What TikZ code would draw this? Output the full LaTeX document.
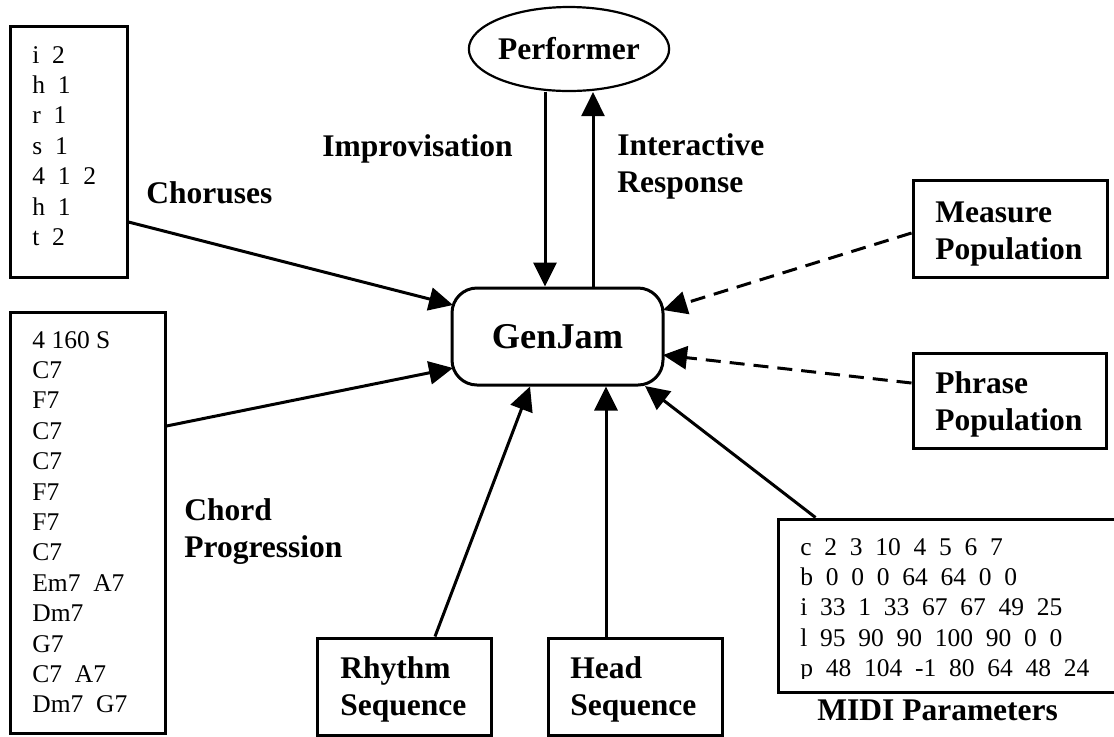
\documentclass[tikz,border=0pt]{standalone}
\usepackage{fontspec}
\setmainfont{Liberation Serif}
\usetikzlibrary{arrows.meta,calc,shapes.geometric}
\newcommand{\mylines}[1]{\begin{tabular}[t]{@{}l@{}}#1\end{tabular}}
\tikzset{
  box/.style={draw, line width=1.5pt, inner sep=0pt},
  reg/.style={font=\fontsize{12.75}{15.2}\selectfont, inner sep=0pt, anchor=base west},
  lbl/.style={font=\fontsize{15.75}{18.5}\selectfont\bfseries, inner sep=0pt, anchor=base west},
  conn/.style={line width=1.5pt, -{Triangle[length=12pt,width=11.5pt]}},
  dconn/.style={conn, dash pattern=on 7.5pt off 4.5pt},
}
\begin{document}
\begin{tikzpicture}[x=0.5pt,y=-0.5pt]
\path[use as bounding box] (0,0) rectangle (1114,736);
\clip (0,0) rectangle (1114,736);

% central node
\node[box, rounded corners=12.5pt, minimum width=105.5pt, minimum height=48.5pt,
      font=\fontsize{18.15}{21}\selectfont\bfseries] (gj) at (557.5,336.5) {GenJam};
\node[draw, line width=1.1pt, ellipse, inner sep=0pt, minimum width=97pt, minimum height=42pt,
      font=\fontsize{15.75}{18.5}\selectfont\bfseries] (perf) at (569,49) {Performer};

% boxes
\node[box, minimum width=58.5pt, minimum height=125.5pt] (chor) at (68.5,151.5) {};
\node[reg] (chortext) at (32,63) {\mylines{i~~2\\h~~1\\r~~1\\s~~1\\4~~1~~2\\h~~1\\t~~2}};

\node[box, minimum width=77.5pt, minimum height=210.5pt] (chord) at (87.5,522.5) {};
\node[reg] (chordtext) at (32,348) {\mylines{4 160 S\\C7\\F7\\C7\\C7\\F7\\F7\\C7\\Em7~~A7\\Dm7\\G7\\C7~~A7\\Dm7~~G7}};

\node[box, minimum width=97pt, minimum height=48.5pt] (meas) at (1010,228.5) {};
\node[lbl] (meastext) at (935,222) {\mylines{Measure\\Population}};

\node[box, minimum width=96.5pt, minimum height=47.5pt] (phr) at (1009.5,400.5) {};
\node[lbl] (phrtext) at (935,393) {\mylines{Phrase\\Population}};

\node[box, minimum width=87pt, minimum height=48.5pt] (rhy) at (404,686.5) {};
\node[lbl] (rhytext) at (340,678) {\mylines{Rhythm\\Sequence}};

\node[box, minimum width=87pt, minimum height=48.5pt] (head) at (635,686.5) {};
\node[lbl] (headtext) at (570,678) {\mylines{Head\\Sequence}};

\node[box, minimum width=173.5pt, minimum height=86.5pt] (midi) at (951.5,605.5) {};
\begin{scope}
  \clip (778,519) rectangle (1125,678.5);
  \node[reg] (miditext) at (800,555) {\mylines{c~~2~~3~~10~~4~~5~~6~~7\\b~~0~~0~~0~~64~~64~~0~~0\\i~~33~~1~~33~~67~~67~~49~~25\\l~~95~~90~~90~~100~~90~~0~~0\\p~~48~~104~~-1~~80~~64~~48~~24}};
\end{scope}

% labels
\node[lbl] (lchor) at (146,203) {Choruses};
\node[lbl] (lchord) at (184,520) {\mylines{Chord\\Progression}};
\node[lbl] (limpro) at (322,156) {Improvisation};
\node[lbl] (linter) at (617,155) {\mylines{Interactive\\Response}};
\node[lbl] (lmidi) at (817,720) {MIDI Parameters};

% connectors
\draw[conn] ($(chor.east)+(0,70.5)$) -- ($(gj.center)+(-104.5,-31.5)$);
\draw[conn] ($(chord.east)+(0,-96.5)$) -- ($(gj.center)+(-104.5,31.5)$);
\draw[conn] ($(perf.south)+(-24,0)$) -- ($(gj.north)+(-12.5,0)$);
\draw[conn] ($(gj.north)+(35.5,0)$) -- ($(perf.south)+(24,0)$);
\draw[dconn] ($(meas.west)+(0,4.5)$) -- ($(gj.center)+(105.5,-26.5)$);
\draw[dconn] ($(phr.west)+(0,-17.5)$) -- ($(gj.center)+(105.5,18.5)$);
\draw[conn] ($(rhy.north)+(31,0)$) -- ($(gj.south)+(-27.5,0)$);
\draw[conn] ($(head.north)+(-29,0)$) -- ($(gj.south)+(48.5,0)$);
\draw[conn] ($(midi.north west)+(39,0)$) -- ($(gj.center)+(87.5,49.5)$);
\end{tikzpicture}
\end{document}
